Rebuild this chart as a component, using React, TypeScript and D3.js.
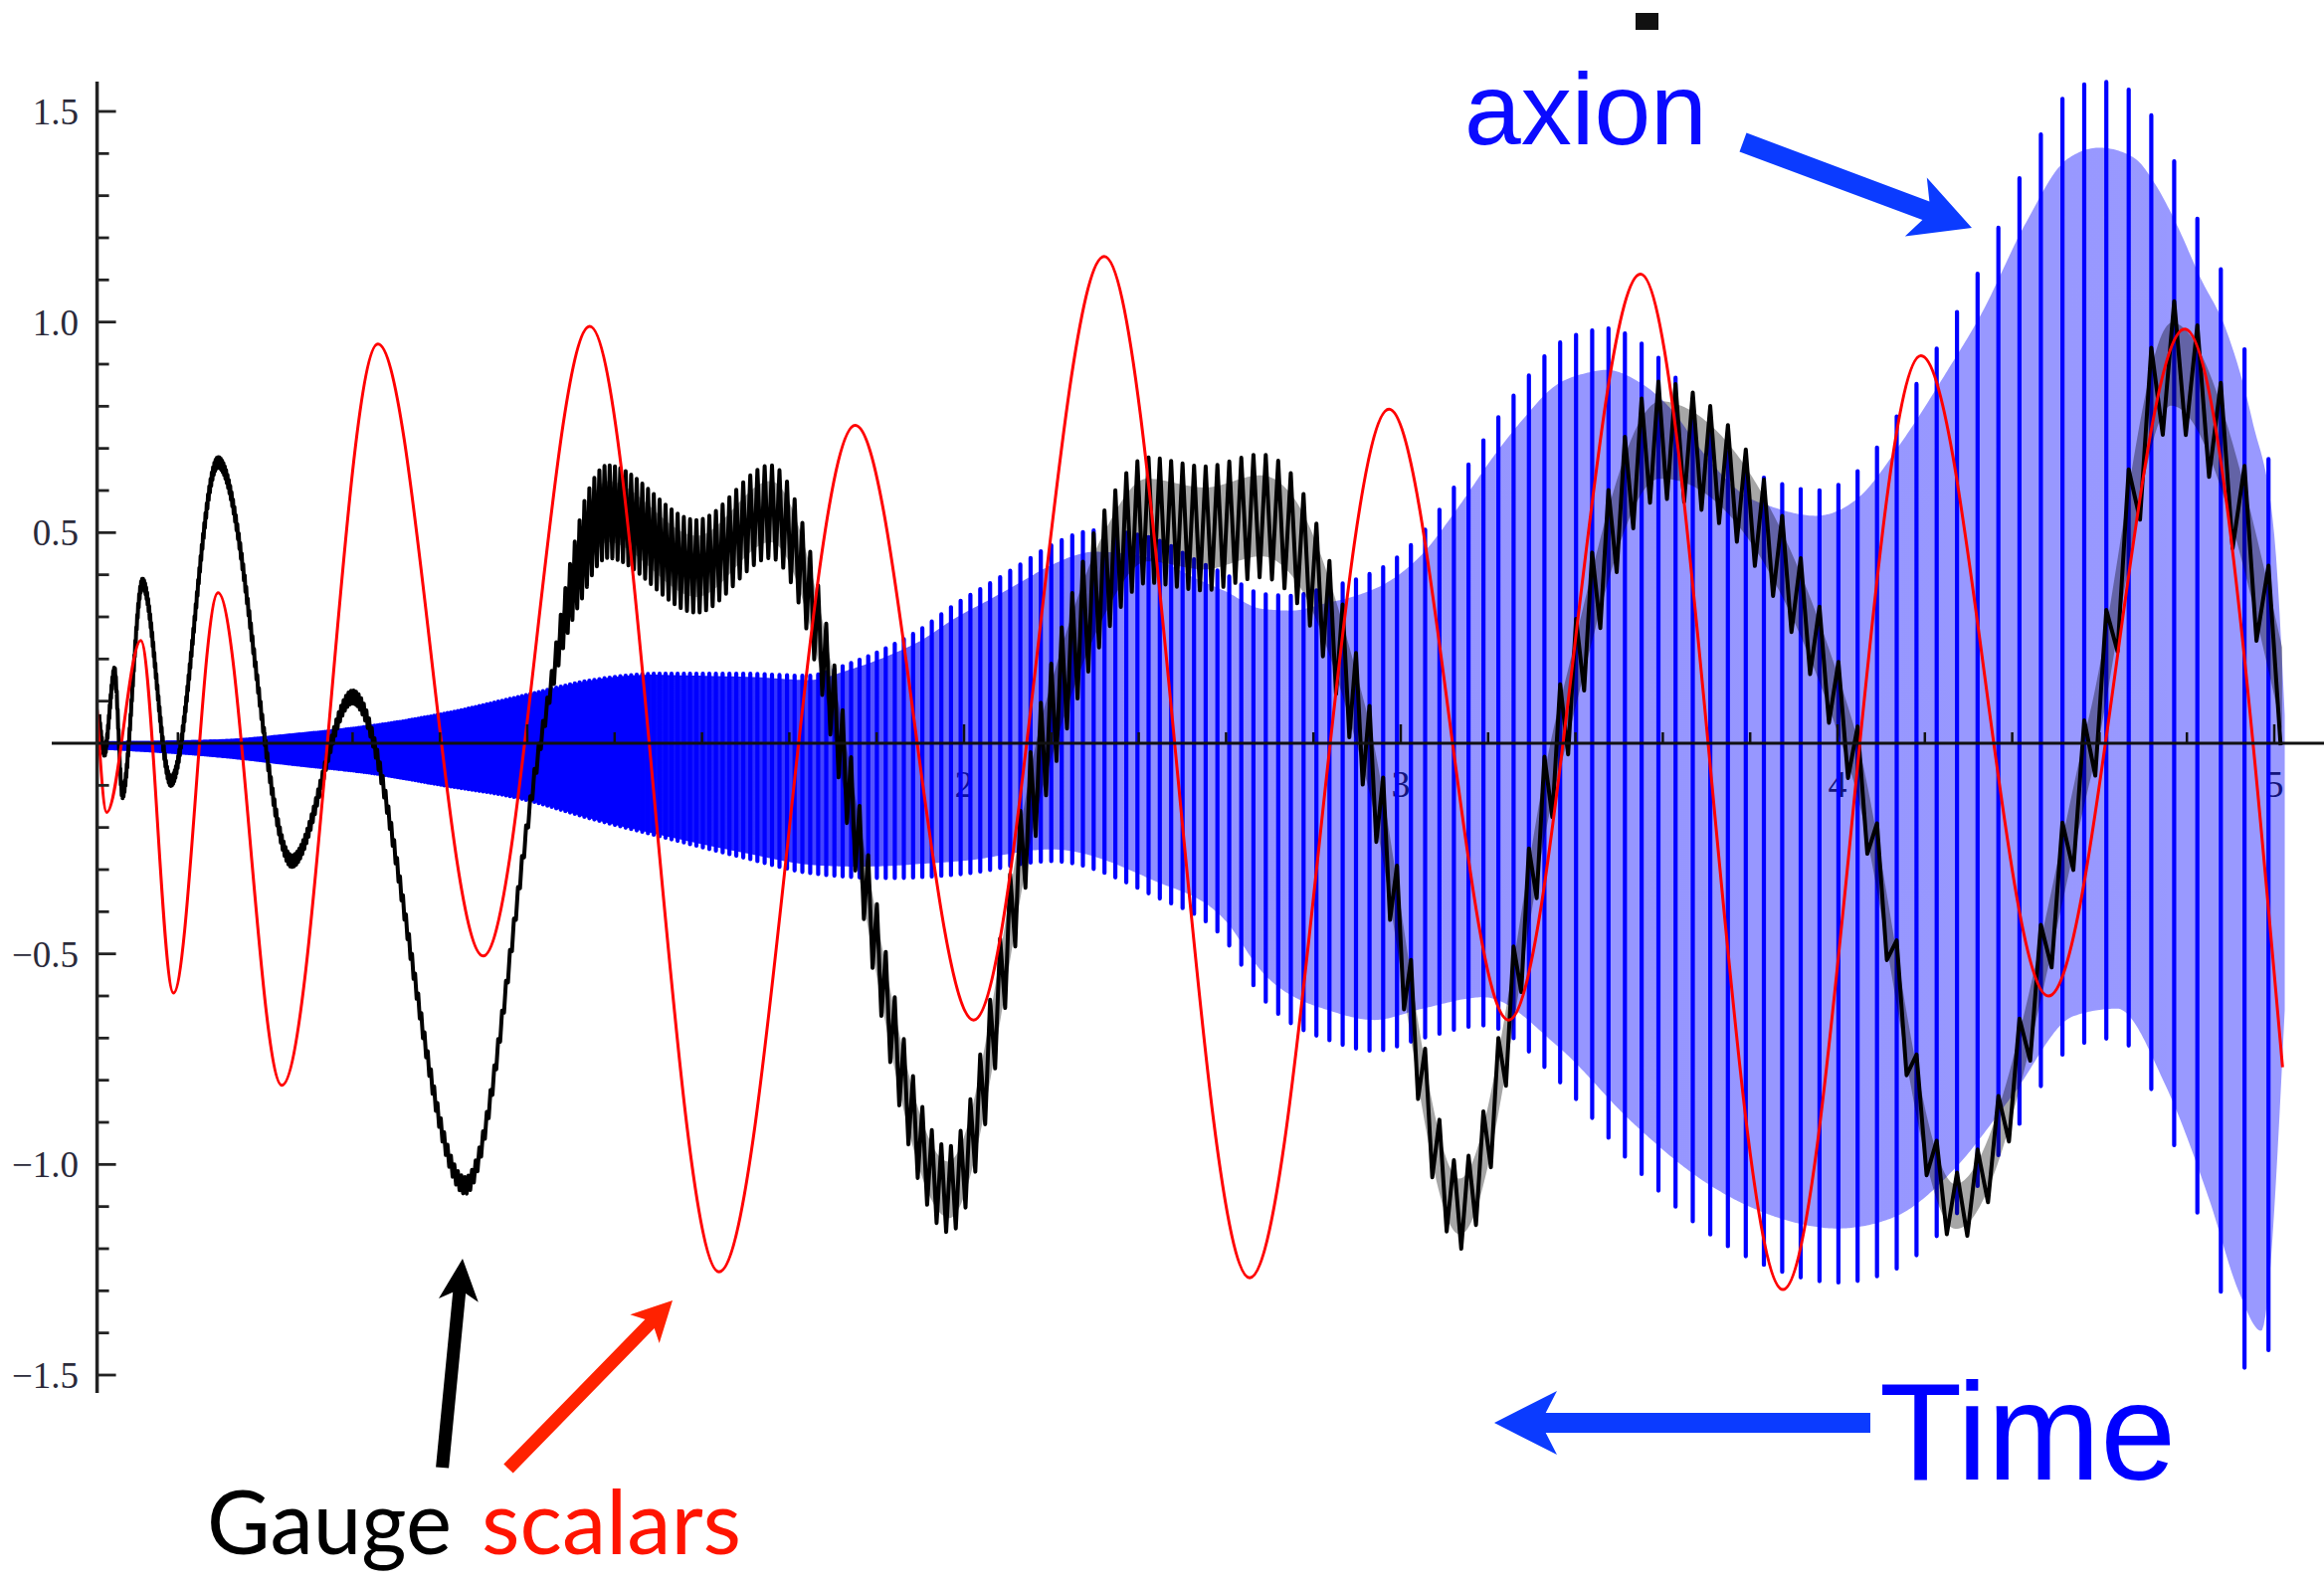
import React from 'react';
import * as d3 from 'd3';

const W = 2336;
const H = 1593;

// ---- axis ticks ----
const xMajorTicks = [1, 2, 3, 4, 5];
const xMinorTicks = [0.2, 0.4, 0.6, 0.8, 1.2, 1.4, 1.6, 1.8, 2.2, 2.4, 2.6, 2.8, 3.2, 3.4, 3.6, 3.8, 4.2, 4.4, 4.6, 4.8];
const yMajorTicks = [-1.5, -1.0, -0.5, 0.5, 1.0, 1.5];
const yTickLabels = ['\u22121.5', '\u22121.0', '\u22120.5', '0.5', '1.0', '1.5'];
const yMinorTicks = [-1.4, -1.3, -1.2, -1.1, -0.9, -0.8, -0.7, -0.6, -0.4, -0.3, -0.2, -0.1, 0.1, 0.2, 0.3, 0.4, 0.6, 0.7, 0.8, 0.9, 1.1, 1.2, 1.3, 1.4];

// ---- red: scalars (extrema) ----
const scalarT = [0.015, 0.037, 0.115, 0.19, 0.292, 0.438, 0.658, 0.899, 1.143, 1.439, 1.751, 2.022, 2.321, 2.654, 2.973, 3.247, 3.549, 3.875, 4.191, 4.483, 4.795, 5.019];
const scalarV = [0.08, -0.164, 0.244, -0.593, 0.357, -0.812, 0.948, -0.505, 0.99, -1.255, 0.755, -0.657, 1.156, -1.269, 0.793, -0.657, 1.114, -1.297, 0.92, -0.6, 0.983, -0.769];

// ---- black: gauge field, slow centre line ----
const gaugeT = [0.018, 0.032, 0.055, 0.073, 0.119, 0.184, 0.292, 0.461, 0.6, 0.858, 1.03, 1.1, 1.184, 1.388, 1.557, 1.965, 2.185, 2.32, 2.42, 2.55, 2.68, 2.76, 2.92, 3.135, 3.36, 3.594, 4.03, 4.27, 4.58, 4.765, 5.02];
const gaugeV = [0.08, -0.02, 0.17, -0.12, 0.38, -0.09, 0.667, -0.28, 0.11, -1.05, 0.0, 0.36, 0.55, 0.42, 0.55, -1.06, 0.0, 0.4, 0.53, 0.51, 0.54, 0.48, 0.0, -1.1, 0.0, 0.72, 0.0, -1.1, 0.0, 0.9, 0.12];
// peak-to-peak size of the fast wiggle on the black curve
const gaugeWiggleT = [0, 0.5, 0.86, 1.05, 1.13, 1.6, 1.95, 2.3, 2.75, 3.13, 3.6, 4.27, 4.77, 5.03];
const gaugeWiggleV = [0.02, 0.028, 0.04, 0.04, 0.22, 0.22, 0.2, 0.3, 0.29, 0.2, 0.28, 0.16, 0.3, 0.3];

// ---- blue: axion, envelope of the fast oscillation ----
const axionUpperT = [0.02, 0.3, 0.47, 0.64, 0.81, 0.98, 1.15, 1.3, 1.5, 1.64, 1.74, 1.83, 1.9, 1.98, 2.06, 2.13, 2.2, 2.3, 2.37, 2.45, 2.53, 2.6, 2.68, 2.75, 2.83, 2.9, 2.97, 3.05, 3.13, 3.21, 3.28, 3.35, 3.43, 3.47, 3.54, 3.62, 3.69, 3.78, 3.86, 3.95, 4.05, 4.15, 4.25, 4.33, 4.43, 4.525, 4.6, 4.678, 4.73, 4.78, 4.83, 4.89, 4.95, 5.0, 5.025];
const axionUpperV = [0.0, 0.005, 0.02, 0.04, 0.07, 0.11, 0.15, 0.165, 0.165, 0.16, 0.19, 0.23, 0.27, 0.33, 0.38, 0.425, 0.47, 0.505, 0.5, 0.48, 0.435, 0.4, 0.355, 0.35, 0.37, 0.39, 0.425, 0.5, 0.62, 0.753, 0.855, 0.94, 0.978, 0.985, 0.957, 0.88, 0.77, 0.66, 0.62, 0.6, 0.65, 0.8, 0.98, 1.134, 1.37, 1.54, 1.571, 1.545, 1.47, 1.36, 1.23, 1.09, 0.85, 0.55, 0.05];
const axionLowerT = [0.02, 0.3, 0.47, 0.64, 0.81, 0.98, 1.15, 1.3, 1.49, 1.66, 1.83, 2.0, 2.2, 2.43, 2.6, 2.68, 2.85, 2.94, 3.05, 3.19, 3.36, 3.53, 3.7, 3.86, 4.0, 4.13, 4.27, 4.4, 4.54, 4.64, 4.75, 4.85, 4.92, 4.97, 5.025];
const axionLowerV = [-0.01, -0.03, -0.05, -0.07, -0.1, -0.13, -0.18, -0.22, -0.27, -0.31, -0.32, -0.31, -0.28, -0.36, -0.47, -0.6, -0.71, -0.73, -0.7, -0.67, -0.8, -1.0, -1.16, -1.25, -1.28, -1.25, -1.12, -0.93, -0.72, -0.7, -0.9, -1.2, -1.45, -1.55, -0.68];

// period of the fast oscillation (time units), estimated at a few places
const carrierT = [0.05, 0.3, 1.0, 1.9, 2.53, 3.5, 4.6];
const carrierP = [0.002, 0.003, 0.0095, 0.0216, 0.0266, 0.038, 0.051];

// monotone cubic (same slopes as d3.curveMonotoneX) for evaluating a curve at any t
function monotone(ts: number[], vs: number[]) {
  const n = ts.length;
  const h: number[] = [];
  const s: number[] = [];
  for (let i = 0; i < n - 1; i++) {
    h[i] = ts[i + 1] - ts[i];
    s[i] = (vs[i + 1] - vs[i]) / h[i];
  }
  const m: number[] = new Array(n).fill(0);
  for (let i = 1; i < n - 1; i++) {
    const p = (s[i - 1] * h[i] + s[i] * h[i - 1]) / (h[i - 1] + h[i]);
    m[i] = (Math.sign(s[i - 1]) + Math.sign(s[i])) * Math.min(Math.abs(s[i - 1]), Math.abs(s[i]), 0.5 * Math.abs(p)) || 0;
  }
  m[0] = (3 * s[0] - m[1]) / 2;
  m[n - 1] = (3 * s[n - 2] - m[n - 2]) / 2;
  return (t: number) => {
    if (t <= ts[0]) return vs[0];
    if (t >= ts[n - 1]) return vs[n - 1];
    let i = d3.bisectRight(ts, t) - 1;
    if (i < 0) i = 0;
    if (i > n - 2) i = n - 2;
    const u = (t - ts[i]) / h[i];
    const u2 = u * u;
    const u3 = u2 * u;
    return (2 * u3 - 3 * u2 + 1) * vs[i] + (u3 - 2 * u2 + u) * h[i] * m[i] + (-2 * u3 + 3 * u2) * vs[i + 1] + (u3 - u2) * h[i] * m[i + 1];
  };
}

function arrowPoints(sx: number, sy: number, tx: number, ty: number, shaftW: number, headL: number, headW: number) {
  const dx = tx - sx;
  const dy = ty - sy;
  const L = Math.hypot(dx, dy);
  const ux = dx / L;
  const uy = dy / L;
  const nx = -uy;
  const ny = ux;
  const bx = tx - ux * headL;
  const by = ty - uy * headL;
  const kx = tx - ux * headL * 0.82;
  const ky = ty - uy * headL * 0.82;
  const pts = [
    [sx + nx * shaftW / 2, sy + ny * shaftW / 2],
    [kx + nx * shaftW / 2, ky + ny * shaftW / 2],
    [bx + nx * headW / 2, by + ny * headW / 2],
    [tx, ty],
    [bx - nx * headW / 2, by - ny * headW / 2],
    [kx - nx * shaftW / 2, ky - ny * shaftW / 2],
    [sx - nx * shaftW / 2, sy - ny * shaftW / 2],
  ];
  return pts.map((p) => p[0].toFixed(1) + ',' + p[1].toFixed(1)).join(' ');
}

export default function App() {
  const x = d3.scaleLinear().domain([0, 5]).range([91, 2286]);
  const y = d3.scaleLinear().domain([-1.5, 1.5]).range([1382, 112]);
  const axisX = x(0.015);
  const axisY = y(0);

  const periodAt = d3.scaleLinear().domain(carrierT).range(carrierP).clamp(false);
  const P = (t: number) => Math.max(0.002, periodAt(t));
  const cycles: number[] = [];
  for (let t = 0.02; t < 5.028; t += P(t)) cycles.push(t);

  const upperF = monotone(axionUpperT, axionUpperV);
  const lowerF = monotone(axionLowerT, axionLowerV);
  const centreF = monotone(gaugeT, gaugeV);
  const wiggleF = d3.scaleLinear().domain(gaugeWiggleT).range(gaugeWiggleV).clamp(true);
  const inset = d3.scaleLinear().domain([1.2, 1.9]).range([1, 0.9]).clamp(true);

  // blue bars
  const barPath = cycles
    .map((t) => `M${x(t).toFixed(1)},${y(lowerF(t)).toFixed(1)}L${x(t).toFixed(1)},${y(upperF(t)).toFixed(1)}`)
    .join('');
  const bandT = d3.range(0.02, 5.025, 0.004);
  const band = d3
    .area<number>()
    .x((t) => x(t))
    .y0((t) => y(lowerF(t) * inset(t)))
    .y1((t) => y(upperF(t) * inset(t)))(bandT) as string;

  // black zig-zag
  const gaugePts: [number, number][] = [];
  cycles.forEach((t) => {
    const a = t;
    const b = Math.min(t + P(t) / 2, 5.02);
    if (a <= 5.02) gaugePts.push([a, centreF(a) + wiggleF(a) / 2]);
    if (b <= 5.02) gaugePts.push([b, centreF(b) - wiggleF(b) / 2]);
  });
  const gaugePath = d3
    .line<[number, number]>()
    .x((d) => x(d[0]))
    .y((d) => y(d[1]))(gaugePts) as string;
  const gaugeBandT = d3.range(0.018, 5.02, 0.004);
  const gaugeBand = d3
    .area<number>()
    .x((t) => x(t))
    .y0((t) => y(centreF(t) - wiggleF(t) * 0.33))
    .y1((t) => y(centreF(t) + wiggleF(t) * 0.33))(gaugeBandT) as string;

  const scalarPath = d3
    .line<number>()
    .x((_, i) => x(scalarT[i]))
    .y((d) => y(d))
    .curve(d3.curveMonotoneX)(scalarV) as string;

  const serif = '"Liberation Serif", "DejaVu Serif", serif';
  const sans = '"Liberation Sans", Arial, sans-serif';

  return (
    <div style={{ position: 'absolute', left: 0, top: 0, width: W, height: H, background: '#fff' }}>
      <svg width={W} height={H} viewBox={`0 0 ${W} ${H}`} style={{ display: 'block' }}>
        <defs>
          <linearGradient id="axionBand" gradientUnits="userSpaceOnUse" x1={x(0)} y1={0} x2={x(5)} y2={0}>
            <stop offset={0} stopColor="#0000ff" stopOpacity={1} />
            <stop offset={1.25 / 5} stopColor="#0000ff" stopOpacity={1} />
            <stop offset={1.9 / 5} stopColor="#0000ff" stopOpacity={0.6} />
            <stop offset={2.5 / 5} stopColor="#0000ff" stopOpacity={0.42} />
            <stop offset={1} stopColor="#0000ff" stopOpacity={0.4} />
          </linearGradient>
        </defs>
        <rect x={0} y={0} width={W} height={H} fill="#fff" />

        {/* x tick labels (under the curves) */}
        {xMajorTicks.map((t) => (
          <text key={'xl' + t} x={x(t)} y={axisY + 54} fontFamily={serif} fontSize={38} fill="#222" textAnchor="middle">
            {t}
          </text>
        ))}

        {/* axion */}
        <path d={band} fill="url(#axionBand)" stroke="none" />
        <path d={barPath} stroke="#0000ff" strokeWidth={4.2} strokeLinecap="round" fill="none" />

        {/* gauge */}
        <path d={gaugeBand} fill="#000" fillOpacity={0.35} stroke="none" />
        <path d={gaugePath} stroke="#000" strokeWidth={4} strokeLinejoin="round" fill="none" />

        {/* scalars */}
        <path d={scalarPath} stroke="#ff0000" strokeWidth={3} fill="none" />

        {/* axes */}
        <line x1={52} x2={W} y1={axisY} y2={axisY} stroke="#111" strokeWidth={3} />
        {xMinorTicks.map((t) => (
          <line key={'xm' + t} x1={x(t)} x2={x(t)} y1={axisY} y2={axisY - 11} stroke="#111" strokeWidth={2.5} />
        ))}
        {xMajorTicks.map((t) => (
          <line key={'xM' + t} x1={x(t)} x2={x(t)} y1={axisY} y2={axisY - 19} stroke="#111" strokeWidth={2.5} />
        ))}
        <line x1={axisX} x2={axisX} y1={82} y2={1400} stroke="#222" strokeWidth={3.5} />
        {yMinorTicks.map((v) => (
          <line key={'ym' + v} x1={axisX} x2={axisX + 12} y1={y(v)} y2={y(v)} stroke="#222" strokeWidth={2.8} />
        ))}
        {yMajorTicks.map((v, i) => (
          <g key={'yM' + v}>
            <line x1={axisX} x2={axisX + 19} y1={y(v)} y2={y(v)} stroke="#222" strokeWidth={2.8} />
            <text x={79} y={y(v) + 13} fontFamily={serif} fontSize={37} fill="#2a2a3a" textAnchor="end">
              {yTickLabels[i]}
            </text>
          </g>
        ))}

        {/* annotations */}
        <rect x={1644} y={13} width={23} height={17} fill="#111" />
        <text x={1472} y={145} fontFamily={sans} fontSize={102} fill="#0a0aff">
          axion
        </text>
        <polygon points={arrowPoints(1752, 143, 1982, 229, 20, 60, 63)} fill="#0b3bff" />

        <polygon points={arrowPoints(1880, 1430, 1502, 1430, 20, 63, 64)} fill="#0b3bff" />
        <text x={1889} y={1487} fontFamily={sans} fontSize={140} fill="#0000ff" textLength={298} lengthAdjust="spacingAndGlyphs">
          Time
        </text>

        <polygon points={arrowPoints(444.6, 1475, 465, 1265, 13, 42, 40)} fill="#000" />
        <polygon points={arrowPoints(511, 1476, 676, 1307, 13, 40, 41)} fill="#ff2200" />
        <text x={208} y={1562} fontFamily='Lato, "Noto Sans", sans-serif' fontSize={89} fill="#000" textLength={246} lengthAdjust="spacingAndGlyphs">
          Gauge
        </text>
        <text x={484} y={1562} fontFamily='Lato, "Noto Sans", sans-serif' fontSize={89} fill="#ff1400" textLength={261} lengthAdjust="spacingAndGlyphs">
          scalars
        </text>
      </svg>
    </div>
  );
}
